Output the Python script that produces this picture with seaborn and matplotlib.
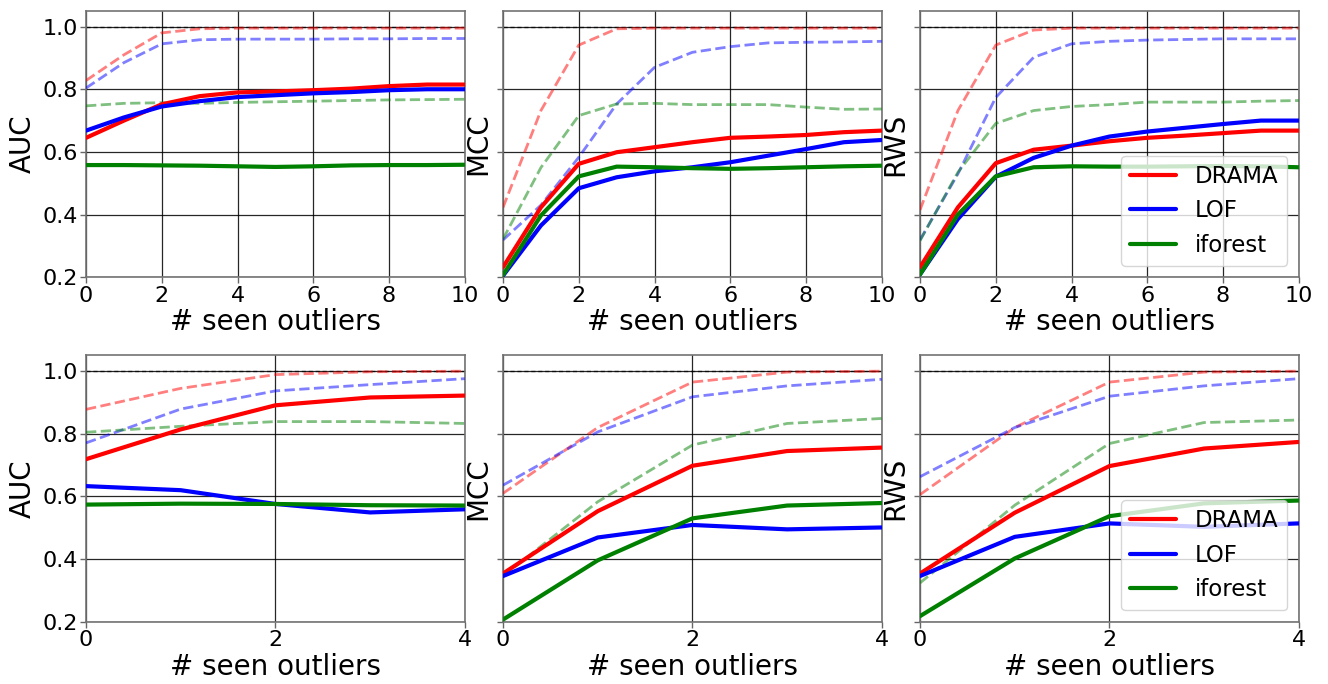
import numpy as np
import pandas as pd
import matplotlib
matplotlib.use("Agg")
import matplotlib.pyplot as plt
import seaborn as sns

sns.set_style("white")
plt.rcParams['font.family'] = ['DejaVu Sans']
plt.rcParams.update({"text.color": "black", "axes.labelcolor": "black",
                     "xtick.color": "black", "ytick.color": "black"})

methods = ["DRAMA", "LOF", "iforest"]
colors = {"DRAMA": "red", "LOF": "blue", "iforest": "green"}
metrics = ["AUC", "MCC", "RWS"]

x_top = [0, 1, 2, 3, 4, 5, 6, 7, 8, 9, 10]
x_bot = [0, 1, 2, 3, 4]

# ---------- top row (solid) ----------
top_auc_drama = [0.645, 0.70, 0.752, 0.778, 0.79, 0.793, 0.797, 0.802, 0.81, 0.815, 0.815]
top_auc_lof = [0.668, 0.71, 0.745, 0.762, 0.775, 0.781, 0.787, 0.791, 0.797, 0.80, 0.80]
top_auc_ifo = [0.558, 0.558, 0.557, 0.556, 0.554, 0.552, 0.554, 0.557, 0.558, 0.558, 0.559]
# top row (dashed)
top_auc_drama_d = [0.828, 0.91, 0.98, 0.993, 0.995, 0.995, 0.995, 0.995, 0.995, 0.995, 0.995]
top_auc_lof_d = [0.804, 0.885, 0.945, 0.958, 0.96, 0.96, 0.96, 0.961, 0.961, 0.962, 0.962]
top_auc_ifo_d = [0.747, 0.755, 0.757, 0.755, 0.758, 0.76, 0.762, 0.764, 0.766, 0.767, 0.768]

top_mcc_drama = [0.232, 0.423, 0.562, 0.599, 0.615, 0.631, 0.645, 0.649, 0.654, 0.663, 0.668]
top_mcc_lof = [0.205, 0.365, 0.484, 0.519, 0.538, 0.551, 0.567, 0.588, 0.609, 0.631, 0.638]
top_mcc_ifo = [0.207, 0.397, 0.522, 0.553, 0.551, 0.548, 0.546, 0.548, 0.551, 0.554, 0.556]
top_mcc_drama_d = [0.423, 0.732, 0.941, 0.993, 0.995, 0.995, 0.995, 0.995, 0.995, 0.995, 0.995]
top_mcc_lof_d = [0.319, 0.43, 0.583, 0.753, 0.87, 0.918, 0.936, 0.948, 0.95, 0.951, 0.953]
top_mcc_ifo_d = [0.322, 0.55, 0.716, 0.753, 0.755, 0.751, 0.751, 0.751, 0.743, 0.736, 0.737]

top_rws_drama = [0.232, 0.423, 0.564, 0.607, 0.62, 0.634, 0.645, 0.652, 0.66, 0.668, 0.668]
top_rws_lof = [0.209, 0.386, 0.521, 0.581, 0.62, 0.649, 0.665, 0.677, 0.689, 0.70, 0.70]
top_rws_ifo = [0.209, 0.40, 0.522, 0.551, 0.554, 0.553, 0.553, 0.554, 0.555, 0.554, 0.551]
top_rws_drama_d = [0.415, 0.732, 0.941, 0.989, 0.995, 0.995, 0.995, 0.995, 0.995, 0.995, 0.995]
top_rws_lof_d = [0.319, 0.53, 0.774, 0.902, 0.945, 0.953, 0.957, 0.959, 0.961, 0.961, 0.961]
top_rws_ifo_d = [0.317, 0.535, 0.691, 0.732, 0.745, 0.751, 0.759, 0.759, 0.759, 0.762, 0.764]

# ---------- bottom row ----------
bot_auc_drama = [0.719, 0.814, 0.891, 0.916, 0.922]
bot_auc_lof = [0.633, 0.62, 0.576, 0.549, 0.559]
bot_auc_ifo = [0.574, 0.577, 0.576, 0.572, 0.571]
bot_auc_drama_d = [0.878, 0.945, 0.989, 0.998, 1.0]
bot_auc_lof_d = [0.771, 0.879, 0.937, 0.957, 0.976]
bot_auc_ifo_d = [0.805, 0.824, 0.839, 0.839, 0.833]

bot_mcc_drama = [0.354, 0.553, 0.698, 0.745, 0.756]
bot_mcc_lof = [0.346, 0.469, 0.509, 0.495, 0.501]
bot_mcc_ifo = [0.207, 0.396, 0.53, 0.571, 0.579]
bot_mcc_drama_d = [0.61, 0.82, 0.965, 0.997, 1.0]
bot_mcc_lof_d = [0.636, 0.806, 0.918, 0.953, 0.974]
bot_mcc_ifo_d = [0.346, 0.583, 0.764, 0.833, 0.849]

bot_rws_drama = [0.354, 0.548, 0.697, 0.753, 0.774]
bot_rws_lof = [0.346, 0.471, 0.514, 0.503, 0.514]
bot_rws_ifo = [0.218, 0.402, 0.537, 0.578, 0.587]
bot_rws_drama_d = [0.606, 0.82, 0.965, 0.997, 1.0]
bot_rws_lof_d = [0.663, 0.82, 0.92, 0.953, 0.976]
bot_rws_ifo_d = [0.324, 0.572, 0.769, 0.836, 0.844]

panels = [
    [(x_top, [top_auc_drama, top_auc_lof, top_auc_ifo], [top_auc_drama_d, top_auc_lof_d, top_auc_ifo_d]),
     (x_top, [top_mcc_drama, top_mcc_lof, top_mcc_ifo], [top_mcc_drama_d, top_mcc_lof_d, top_mcc_ifo_d]),
     (x_top, [top_rws_drama, top_rws_lof, top_rws_ifo], [top_rws_drama_d, top_rws_lof_d, top_rws_ifo_d])],
    [(x_bot, [bot_auc_drama, bot_auc_lof, bot_auc_ifo], [bot_auc_drama_d, bot_auc_lof_d, bot_auc_ifo_d]),
     (x_bot, [bot_mcc_drama, bot_mcc_lof, bot_mcc_ifo], [bot_mcc_drama_d, bot_mcc_lof_d, bot_mcc_ifo_d]),
     (x_bot, [bot_rws_drama, bot_rws_lof, bot_rws_ifo], [bot_rws_drama_d, bot_rws_lof_d, bot_rws_ifo_d])],
]

fig, axes = plt.subplots(2, 3, figsize=(13.28, 6.84), dpi=100)
fig.subplots_adjust(left=0.0648, right=0.978, top=0.984, bottom=0.091,
                    wspace=0.101, hspace=0.294)

for r in range(2):
    for c in range(3):
        ax = axes[r, c]
        xs, solid, dashed = panels[r][c]
        for m, ys in zip(methods, dashed):
            df = pd.DataFrame({"x": xs, "y": ys})
            sns.lineplot(data=df, x="x", y="y", ax=ax, color=colors[m],
                         lw=2, linestyle="--", alpha=0.5, zorder=3)
        for m, ys in zip(methods, solid):
            df = pd.DataFrame({"x": xs, "y": ys})
            sns.lineplot(data=df, x="x", y="y", ax=ax, color=colors[m],
                         lw=3, label=m, zorder=4)
        ax.axhline(1.0, color="black", lw=1, ls=(0, (3, 2)), alpha=0.7, zorder=2)
        ax.set_ylim(0.2, 1.05)
        ax.set_xlim(xs[0], xs[-1])
        ax.set_yticks([0.2, 0.4, 0.6, 0.8, 1.0])
        ax.set_xticks(xs[::2])
        ax.grid(True, color="black", lw=0.9, alpha=0.85)
        ax.set_axisbelow(True)
        ax.set_xlabel("# seen outliers", fontsize=20, labelpad=2)
        ax.set_ylabel(metrics[c], fontsize=20, labelpad=4)
        ax.tick_params(axis="both", labelsize=16, direction="out", length=4,
                       width=1, color="0.4", pad=2,
                       bottom=True, left=True)
        if c > 0:
            ax.tick_params(axis="y", labelleft=False)
        for s in ax.spines.values():
            s.set_color("0.45")
            s.set_linewidth(1.2)
        if c == 2:
            ax.legend(loc="lower right", fontsize=16.5, handlelength=2,
                      framealpha=0.8)
        else:
            lg = ax.get_legend()
            if lg is not None:
                lg.remove()

fig.savefig("out.png", dpi=100)
